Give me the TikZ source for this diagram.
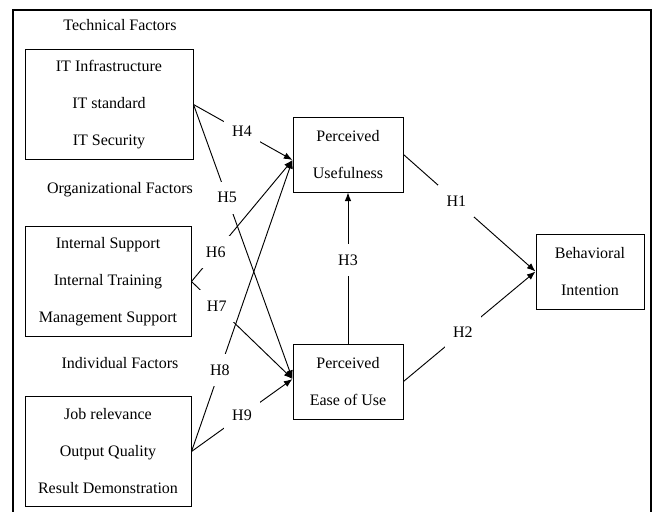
\documentclass[tikz,border=0pt]{standalone}
\usepackage{fontspec}
\setmainfont{Liberation Serif}
\usetikzlibrary{positioning, arrows.meta, calc}

\begin{document}
\begin{tikzpicture}[
    x=0.75pt, y=-0.75pt,
    node distance=0.4cm and 0.8cm,
    % Base styles
    basebox/.style={rectangle, draw, line width=0.75pt, align=center, inner sep=0pt,
        font=\fontsize{12}{27.75}\selectfont},
    % Boxes holding the three factors of a group
    factorbox/.style={basebox, minimum width=124.5pt, minimum height=82.5pt},
    % Boxes for the constructs
    constructbox/.style={basebox, minimum width=82.5pt, minimum height=56.25pt},
    % Group titles
    grouptitle/.style={font=\fontsize{12}{14}\selectfont, inner sep=0pt},
    % Hypothesis labels cut the line
    hyp/.style={fill=white, font=\fontsize{12}{14}\selectfont, inner sep=0pt,
        minimum width=27pt, minimum height=24pt},
    % Arrow style
    arrow/.style={-{Latex[length=6.5pt, width=5pt]}, line width=0.7pt},
]

% Outer frame, open at the bottom
\useasboundingbox (0,0) rectangle (656,511);
\begin{scope}
\clip (0,0) rectangle (656,511);
\draw[line width=1.5pt] (13,530) -- (13,10) -- (651,10) -- (651,530);
\end{scope}

% Left column: factor groups
\node[grouptitle] (techtitle) at (120,25) {Technical Factors};
\node[factorbox, minimum width=126pt] (tech) at (109,104.5) {IT Infrastructure\\IT standard\\IT Security};
\node[grouptitle] (orgtitle) at (120,190) {Organizational Factors};
\node[factorbox, below=49.5pt of tech, xshift=-0.75pt] (org) {Internal Support\\Internal Training\\Management Support};
\node[grouptitle] (indtitle) at (120,363) {Individual Factors};
\node[factorbox, below=44.25pt of org] (ind) {Job relevance\\Output Quality\\Result Demonstration};

% Middle and right: constructs
\node[constructbox] (pu) at (348,154.5) {Perceived\\Usefulness};
\node[constructbox, below=113.25pt of pu] (peou) {Perceived\\Ease of Use};
\node[constructbox, minimum width=81pt] (bi) at (590,271.5) {Behavioral\\Intention};

% Points where the arrows meet
\coordinate (puin) at ($(pu.west)+(0,5.5)$);
\coordinate (peouin) at ($(peou.west)+(0,-2.5)$);

% Arrows: factors to constructs
\draw[arrow] (tech.east) -- node[hyp, pos=0.49] {H4} (puin);
\draw[arrow] (tech.east) -- node[hyp, pos=0.34] {H5} (peouin);
\draw[arrow] (org.east) -- node[hyp, pos=0.24] {H6} (puin);
\draw[arrow] (org.east) -- node[hyp, pos=0.25] {H7} (peouin);
\draw[arrow] (ind.east) -- node[hyp, pos=0.28] {H8} (puin);
\draw[arrow] (ind.east) -- node[hyp, pos=0.5] {H9} (peouin);

% Arrows: constructs to intention
\draw[arrow] (peou.north) -- node[hyp, pos=0.55] {H3} (pu.south);
\draw[arrow] (pu.east) -- node[hyp, pos=0.4] {H1} (bi.west);
\draw[arrow] (peou.east) -- node[hyp, pos=0.45] {H2} (bi.west);

\end{tikzpicture}
\end{document}
